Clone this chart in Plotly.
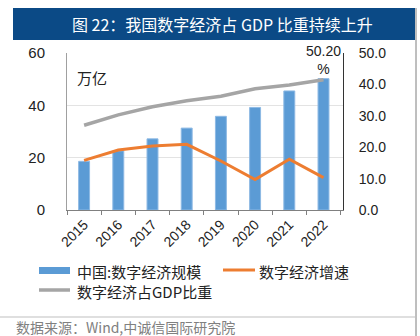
import plotly.graph_objects as go

years = ["2015", "2016", "2017", "2018", "2019", "2020", "2021", "2022"]
scale = [18.6, 22.6, 27.2, 31.3, 35.8, 39.2, 45.5, 50.2]          # 万亿, left axis
growth = [15.8, 19.1, 20.4, 20.9, 15.6, 9.7, 16.2, 10.3]          # %, right axis
share = [27.0, 30.3, 32.9, 34.8, 36.2, 38.6, 39.8, 41.5]          # %, right axis
left_ticks = [0, 20, 40, 60]
right_ticks = [0, 10, 20, 30, 40, 50]

W, H = 420, 336
ML, MR, MT, MB = 67, 77, 53, 126
PW = W - ML - MR
PH = H - MT - MB


def px(x):
    return (x - ML) / PW


def py(y):
    return (H - MB - y) / PH


CJK = "Noto Sans CJK SC"
fig = go.Figure()
fig.add_trace(go.Bar(x=years, y=scale, name="中国:数字经济规模", marker_color="#5B9BD5",
                     marker_line=dict(color="#8DB9E4", width=1), width=0.32, showlegend=False))
fig.add_trace(go.Scatter(x=years, y=growth, name="数字经济增速", mode="lines", yaxis="y2",
                         line=dict(color="#ED7D31", width=3), showlegend=False))
fig.add_trace(go.Scatter(x=years, y=share, name="数字经济占GDP比重", mode="lines", yaxis="y2",
                         line=dict(color="#A5A5A5", width=3.5), showlegend=False))

shapes = [
    dict(type="rect", xref="paper", yref="paper", x0=px(13), x1=px(415), y0=py(8), y1=py(40),
         fillcolor="#0B4A86", line=dict(width=0), layer="below"),
    dict(type="line", xref="paper", yref="paper", x0=px(0), x1=px(415), y0=py(317), y1=py(317),
         line=dict(color="#BFBFBF", width=1)),
    dict(type="line", xref="paper", yref="paper", x0=px(416), x1=px(416), y0=py(8), y1=py(336),
         line=dict(color="#7F7F7F", width=1)),
    # legend symbols
    dict(type="rect", xref="paper", yref="paper", x0=px(39), x1=px(70), y0=py(267), y1=py(274),
         fillcolor="#5B9BD5", line=dict(width=0)),
    dict(type="line", xref="paper", yref="paper", x0=px(223), x1=px(255), y0=py(270), y1=py(270),
         line=dict(color="#ED7D31", width=3)),
    dict(type="line", xref="paper", yref="paper", x0=px(39), x1=px(70), y0=py(290), y1=py(290),
         line=dict(color="#A5A5A5", width=3.5)),
]

annotations = [
    dict(text="图 22：我国数字经济占 GDP 比重持续上升", xref="paper", yref="paper",
         x=px(222), y=py(24), showarrow=False, xanchor="center", yanchor="middle",
         font=dict(family=CJK, size=16, color="white")),
    dict(text="万亿", xref="paper", yref="paper", x=px(75), y=py(77), showarrow=False,
         xanchor="left", yanchor="middle", font=dict(family=CJK, size=15, color="#222")),
    dict(text="50.20<br>%", x=len(years) - 1, y=scale[-1], xref="x", yref="y", showarrow=False,
         xanchor="center", yanchor="bottom", font=dict(family="Liberation Sans", size=14, color="#222")),
    dict(text="中国:数字经济规模", xref="paper", yref="paper", x=px(75), y=py(271), showarrow=False,
         xanchor="left", yanchor="middle", font=dict(family=CJK, size=15, color="#222")),
    dict(text="数字经济增速", xref="paper", yref="paper", x=px(257), y=py(271), showarrow=False,
         xanchor="left", yanchor="middle", font=dict(family=CJK, size=15, color="#222")),
    dict(text="数字经济占GDP比重", xref="paper", yref="paper", x=px(75), y=py(291), showarrow=False,
         xanchor="left", yanchor="middle", font=dict(family=CJK, size=15, color="#222")),
    dict(text="数据来源：Wind,中诚信国际研究院", xref="paper", yref="paper", x=px(14), y=py(327),
         showarrow=False, xanchor="left", yanchor="middle", font=dict(family=CJK, size=14, color="#808080")),
]

fig.update_layout(
    width=W, height=H, margin=dict(l=ML, r=MR, t=MT, b=MB, autoexpand=False),
    paper_bgcolor="white", plot_bgcolor="white",
    font=dict(family="Liberation Sans", color="#222"),
    shapes=shapes, annotations=annotations, bargap=0.68,
    xaxis=dict(type="category", tickangle=-45, tickfont=dict(size=14), showline=True,
               linecolor="#808080", ticks="outside", tickson="boundaries", ticklen=4,
               tickcolor="#808080", showgrid=False),
    yaxis=dict(range=[0, 60], tickvals=left_ticks, tickfont=dict(size=15), showline=True,
               linecolor="#A0A0A0", gridcolor="#E3E3E3", gridwidth=1, zeroline=False,
               ticks="outside", ticklen=18, tickcolor="rgba(0,0,0,0)"),
    yaxis2=dict(range=[0, 50], tickvals=right_ticks, tickformat=".1f", overlaying="y", side="right",
                tickfont=dict(size=14), showline=True, linecolor="#333", showgrid=False,
                zeroline=False, ticks="outside", ticklen=12, tickcolor="rgba(0,0,0,0)"),
)

fig.write_html("out.html")
